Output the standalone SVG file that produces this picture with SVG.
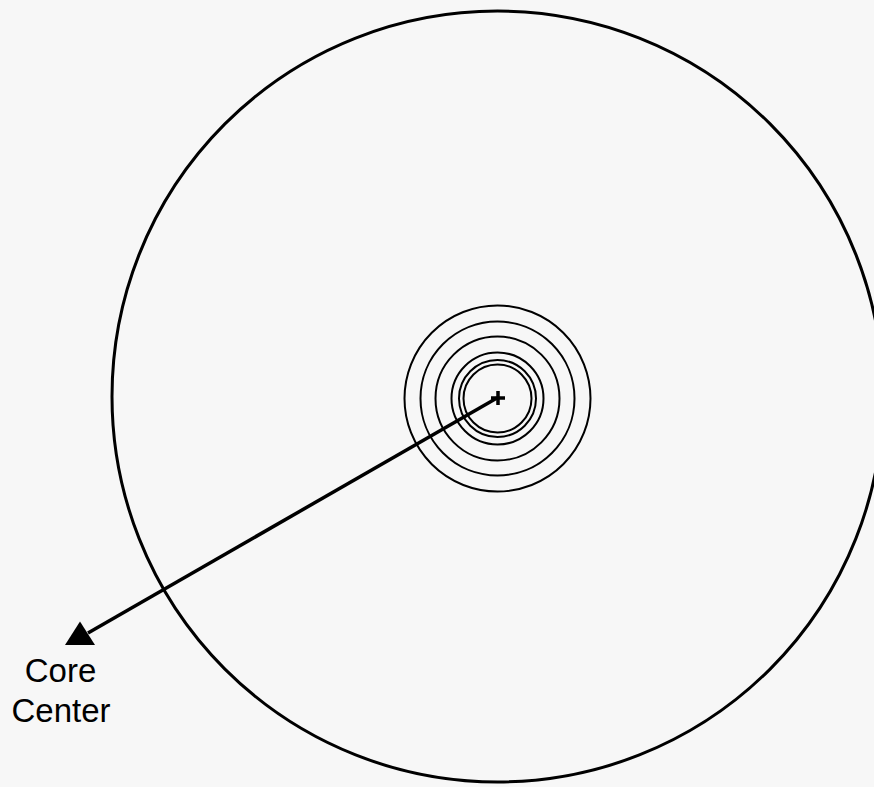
<svg xmlns="http://www.w3.org/2000/svg" width="874" height="787" viewBox="0 0 874 787">
<style>
.ring{fill:none;stroke:#000;stroke-width:2}
.label{font-family:"Liberation Sans",Arial,sans-serif;font-size:33px;fill:#000;text-anchor:middle}
</style>
<rect width="874" height="787" fill="#f7f7f7"/>
<g id="vessel">
<circle cx="497.5" cy="396.5" r="385.5" fill="none" stroke="#000" stroke-width="3"/>
</g>
<g id="rings">
<circle class="ring" cx="497.5" cy="398.5" r="93"/>
<circle class="ring" cx="497.5" cy="398.5" r="77"/>
<circle class="ring" cx="497.5" cy="398.5" r="62"/>
<circle class="ring" cx="497.5" cy="398.5" r="46"/>
<circle class="ring" cx="497.5" cy="398.5" r="38.5"/>
<circle class="ring" cx="497.5" cy="398.5" r="34"/>
</g>
<g id="center-mark">
<path d="M491 398H505M498 391V405" stroke="#000" stroke-width="3.5" fill="none"/>
</g>
<g id="connectors">
<line x1="497" y1="398" x2="88" y2="633" stroke="#000" stroke-width="3.5"/>
<polygon points="80,621.5 65,645 95,645" fill="#000"/>
</g>
<g id="label">
<text class="label" x="60.5" y="682">Core</text>
<text class="label" x="61" y="722">Center</text>
</g>
</svg>
